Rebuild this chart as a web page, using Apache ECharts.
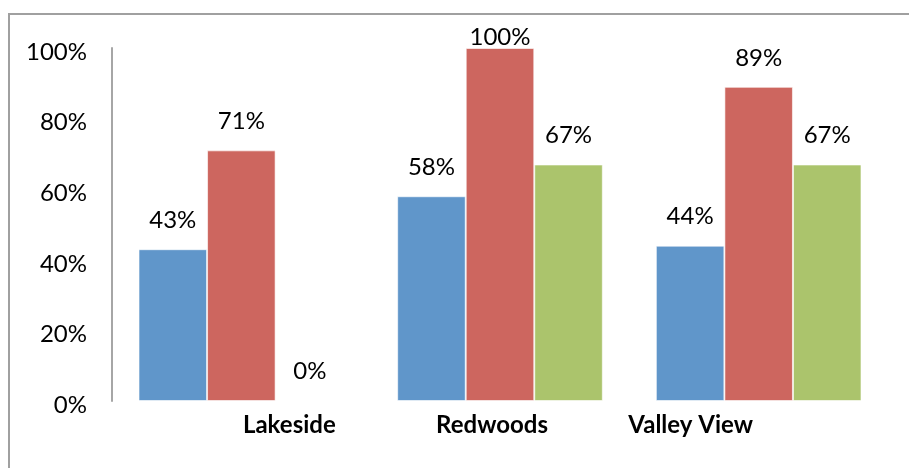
<!DOCTYPE html>
<html>
<head>
<meta charset="utf-8">
<script src="https://cdn.jsdelivr.net/npm/echarts@6/dist/echarts.min.js"></script>
<style>
  html, body { margin: 0; padding: 0; background: #fff; }
  #chart { width: 909px; height: 468px; }
</style>
</head>
<body>
<div id="chart"></div>
<script>
const categories = ['Lakeside', 'Redwoods', 'Valley View']
const seriesA = [43, 58, 44]
const seriesB = [71, 100, 89]
const seriesC = [0, 67, 67]
const yTicks = [0, 20, 40, 60, 80, 100]

// label shift per category (the source puts them off-centre)
const labelShift = { 'Lakeside': 48, 'Redwoods': -8, 'Valley View': -68 }

const FONT = 'Lato, "Open Sans", sans-serif'

function barData(values) {
  return values.map(function(v) {
    // the 100% label is squeezed against the plot top
    return v >= 100 ? { value: v, label: { distance: -1 } } : v
  })
}

function barSeries(name, values, color) {
  return {
    name: name,
    type: 'bar',
    barGap: 0,
    barCategoryGap: '20.5%',
    itemStyle: { color: color, borderColor: 'rgba(255,255,255,0.6)', borderWidth: 1 },
    label: {
      show: true,
      position: 'top',
      distance: 17,
      formatter: '{c}%',
      color: '#000',
      fontFamily: FONT,
      fontSize: 24
    },
    data: barData(values)
  }
}

function catStyle(pad) {
  return { fontFamily: FONT, fontWeight: 'bold', fontSize: 24, color: '#000', padding: pad }
}

const myChart = echarts.init(document.getElementById('chart'))
myChart.setOption({
  animation: false,
  graphic: [{
    type: 'rect',
    shape: { x: 9, y: 14, width: 1000, height: 1000 },
    style: { fill: 'none', stroke: '#a0a0a0', lineWidth: 2 },
    silent: true
  }],
  grid: { left: 112, right: 21, top: 48, bottom: 67 },
  xAxis: {
    type: 'category',
    data: categories,
    axisLine: { show: false },
    axisTick: { show: false },
    axisLabel: {
      margin: 12,
      formatter: function(v) {
        const key = v === 'Lakeside' ? 'a' : (v === 'Redwoods' ? 'b' : 'c')
        return '{' + key + '|' + v + '}'
      },
      rich: {
        a: catStyle([0, 0, 0, 2 * labelShift['Lakeside']]),
        b: catStyle([0, -2 * labelShift['Redwoods'], 0, 0]),
        c: catStyle([0, -2 * labelShift['Valley View'], 0, 0])
      }
    }
  },
  yAxis: {
    type: 'value',
    min: yTicks[0],
    max: yTicks[yTicks.length - 1],
    interval: 20,
    axisLine: { show: true, lineStyle: { color: '#a6a6a6', width: 2 } },
    axisTick: { show: false },
    splitLine: { show: false },
    axisLabel: {
      margin: 25,
      formatter: '{v|{value}%}',
      rich: {
        v: { color: '#000', fontFamily: FONT, fontSize: 24, padding: [8, 0, 0, 0] }
      }
    }
  },
  series: [
    barSeries('A', seriesA, '#6096ca'),
    barSeries('B', seriesB, '#cd665f'),
    barSeries('C', seriesC, '#abc46c')
  ]
})
</script>
</body>
</html>
